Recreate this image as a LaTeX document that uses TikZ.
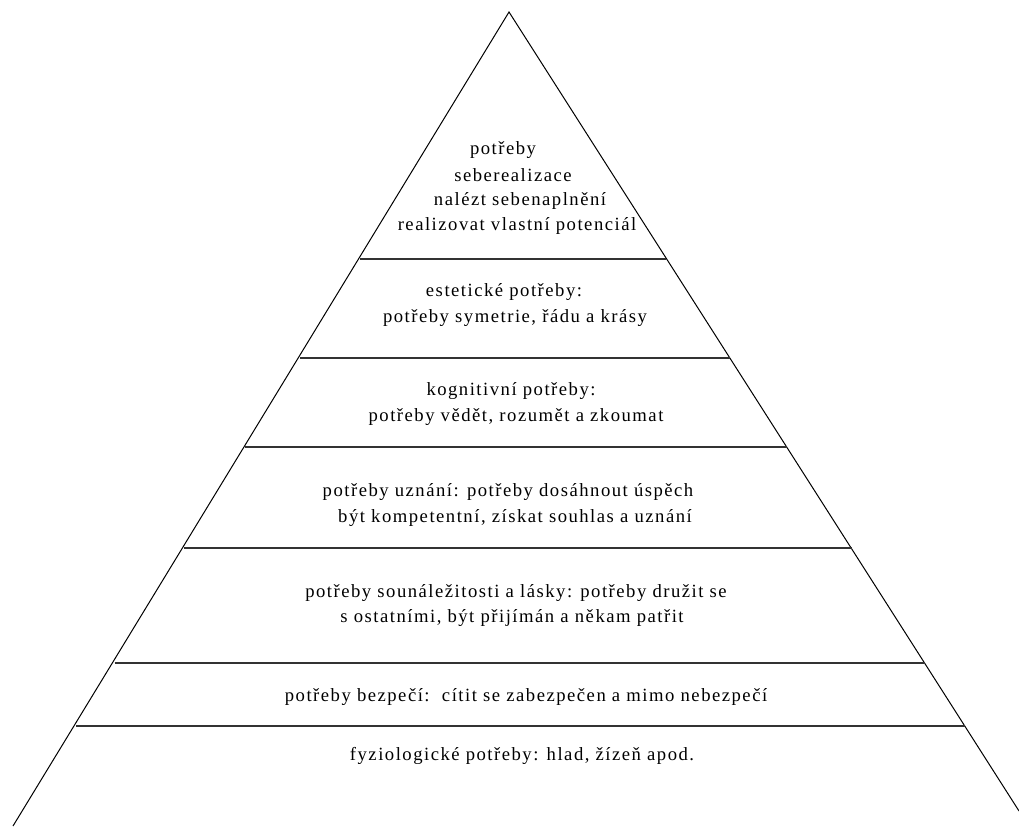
\documentclass[tikz,border=0pt]{standalone}
\usepackage{fontspec}
\setmainfont{Liberation Serif}[LetterSpace=8]

\tikzset{every picture/.style={line width=0.75pt}}
\tikzset{level/.style={line width=1.5, draw={rgb, 255:red, 50; green, 50; blue, 50 }}}
\tikzset{label/.style={font=\fontsize{14}{17}\selectfont, inner sep=0pt}}

\begin{document}
\begin{tikzpicture}[x=0.75pt,y=0.75pt,yscale=-1,xscale=1]
	\useasboundingbox (0,0) rectangle (1019,827);

	%Shape: Triangle sides
	\coordinate (apex) at (509,12);
	\coordinate (bl) at (13,826);
	\coordinate (br) at (1019,811);
	\draw    (bl) -- (apex) -- (br) ;

	%Straight Lines
	\draw [level]    (359.9,259) -- (666.2,259) ;
	%Straight Lines
	\draw [level]    (299.9,358) -- (729.5,358) ;
	%Straight Lines
	\draw [level]    (245.4,447) -- (787,447) ;
	%Straight Lines
	\draw [level]    (184.2,548) -- (851.5,548) ;
	%Straight Lines
	\draw [level]    (114.5,663) -- (925,663) ;
	%Straight Lines
	\draw [level]    (76.3,726) -- (965.2,726) ;

	% Text Node
	\node [label] (sr1) at (503,150) {potřeby};
	% Text Node
	\node [label] (sr2) at (513,175) {seberealizace};
	% Text Node
	\node [label] (sr3) at (520,201) {nalézt sebenaplnění};
	% Text Node
	\node [label] (sr4) at (517,226) {realizovat vlastní potenciál};
	% Text Node
	\node [label] (est1) at (504,292) {estetické potřeby:};
	% Text Node
	\node [label] (est2) at (515,318) {potřeby symetrie, řádu a krásy};
	% Text Node
	\node [label] (kog1) at (511,391) {kognitivní potřeby:};
	% Text Node
	\node [label] (kog2) at (516,417) {potřeby vědět, rozumět a zkoumat};
	% Text Node
	\node [label] (uzn1) at (508,492) {potřeby uznání: potřeby dosáhnout úspěch};
	% Text Node
	\node [label] (uzn2) at (515,518) {být kompetentní, získat souhlas a uznání};
	% Text Node
	\node [label] (sou1) at (516,593) {potřeby sounáležitosti a lásky: potřeby družit se};
	% Text Node
	\node [label] (sou2) at (512,618) {s ostatními, být přijímán a někam patřit};
	% Text Node
	\node [label] (bez) at (526,697) {potřeby bezpečí:\ \ cítit se zabezpečen a mimo nebezpečí};
	% Text Node
	\node [label] (fyz) at (522,756) {fyziologické potřeby: hlad, žízeň apod.};

\end{tikzpicture}
\end{document}
